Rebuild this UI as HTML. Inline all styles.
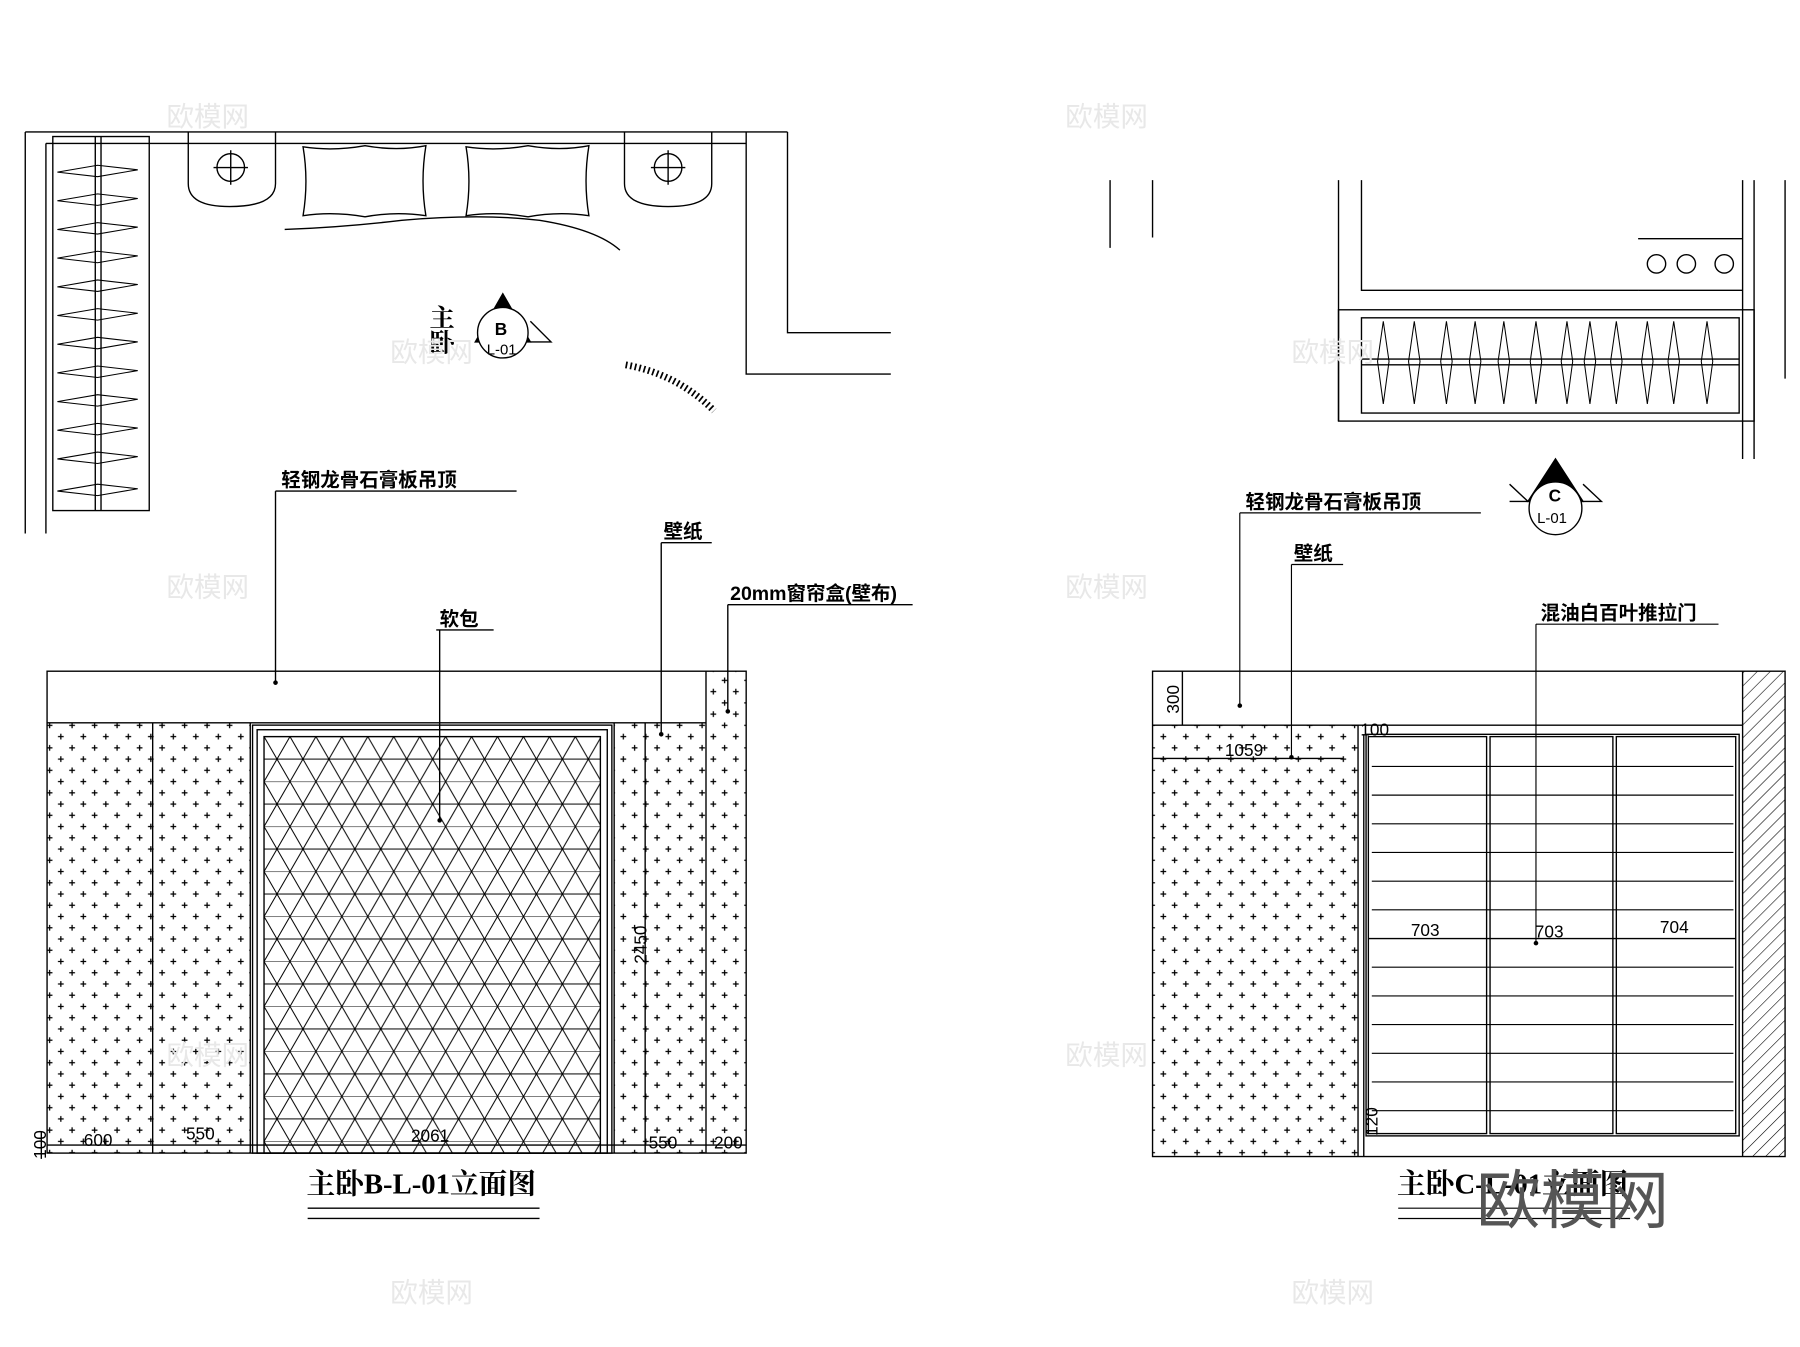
<!DOCTYPE html>
<html><head><meta charset="utf-8"><style>html,body{margin:0;padding:0;background:#fff}svg{display:block}text{fill:#000}.cn{font-family:"Liberation Sans","Noto Sans CJK SC",sans-serif;font-weight:bold}.num{font-family:"Liberation Sans",sans-serif}.ti{font-family:"Liberation Serif","Noto Serif CJK SC",serif;font-weight:bold}</style></head><body>
<svg width="1800" height="1347" viewBox="0 0 1568 1174" preserveAspectRatio="none" xmlns="http://www.w3.org/2000/svg">
<defs>
<pattern id="dots" width="19.6" height="19.6" patternUnits="userSpaceOnUse">
<path d="M4 2.5v5M1.5 5h5M13.8 12.3v5M11.3 14.8h5" stroke="#000" stroke-width="1.1"/>
</pattern>
<pattern id="tri" x="230" y="642" width="22.6" height="39.2" patternUnits="userSpaceOnUse">
<path d="M0 0L22.6 39.2M22.6 0L0 39.2M0 19.6H22.6M0 0H22.6" stroke="#000" stroke-width="0.9"/>
</pattern>
<pattern id="hatch" width="8" height="8" patternUnits="userSpaceOnUse" patternTransform="rotate(-45)">
<path d="M0 0H8" stroke="#000" stroke-width="1"/>
</pattern>
<g id="hanger"><path d="M0 0 L35 -6 L70 -2 L35 4Z" fill="none" stroke="#000" stroke-width="0.9"/></g>
<g id="vh"><path d="M0 0 L-5 35 L0 72 L5 35Z" fill="none" stroke="#000" stroke-width="0.9"/></g>
</defs>
<g fill="none" stroke="#000" stroke-width="1.2">
<path d="M22 115H686M40 125H650M22 115V465M40 125V465"/>
<rect x="46" y="119" width="84" height="326"/>
<path d="M83 119V445M88 119V445"/>
<path d="M164 115V160Q164 180 200 180Q240 180 240 160V115M544 115V160Q544 180 582 180Q620 180 620 160V115"/>
<circle cx="201" cy="146" r="12"/><circle cx="582" cy="146" r="12"/>
<path d="M186 146H216M201 131V161M567 146H597M582 131V161"/>
<path d="M264 128Q290 132 318 127Q346 132 371 127Q366 158 371 188Q344 184 318 189Q290 184 264 188Q269 158 264 128Z"/>
<path d="M406 128Q432 132 460 127Q488 132 513 127Q508 158 513 188Q486 184 460 189Q432 184 406 188Q411 158 406 128Z"/>
<path d="M248 200Q300 198 350 192Q420 186 470 192Q520 200 540 218"/>
<path d="M650 115V326H776M686 115V290H776"/>
<path d="M545 318Q590 326 622 358" stroke-dasharray="1.5 2.5" stroke-width="6"/>
<path d="M414 298L438 256L462 298Z" fill="#000"/>
<path d="M462 298H480L462 280"/>
<circle cx="438" cy="290" r="22" fill="#fff"/>
</g>
<text class="num" x="431" y="292" font-size="15" font-weight="bold">B</text>
<text class="num" x="424" y="309" font-size="13">L-01</text>
<text class="ti" x="383" y="265" font-size="22" writing-mode="tb">主卧</text>
<g>
<use href="#hanger" x="50" y="150"/><use href="#hanger" x="50" y="175"/><use href="#hanger" x="50" y="200"/><use href="#hanger" x="50" y="225"/><use href="#hanger" x="50" y="250"/><use href="#hanger" x="50" y="275"/><use href="#hanger" x="50" y="300"/><use href="#hanger" x="50" y="325"/><use href="#hanger" x="50" y="350"/><use href="#hanger" x="50" y="375"/><use href="#hanger" x="50" y="400"/><use href="#hanger" x="50" y="428"/>
</g>
<rect x="41" y="630" width="574" height="375" fill="url(#dots)"/>
<rect x="615" y="585" width="35" height="420" fill="url(#dots)"/>
<rect x="218" y="630" width="317" height="375" fill="#fff"/>
<rect x="230" y="642" width="293" height="363" fill="url(#tri)"/>
<g fill="none" stroke="#000" stroke-width="1.2">
<rect x="41" y="585" width="609" height="420"/>
<path d="M41 630H615M615 585V1005M133 630V1005M218 630V1005M535 630V1005M562 630V1005"/>
<rect x="220" y="632" width="313" height="373"/><rect x="224" y="636" width="305" height="369"/><rect x="230" y="642" width="293" height="363"/>
<path d="M41 998H650M36 986V1010"/>
<path d="M240 428H450M240 428V595M576 473H620M576 473V640M634 527H795M634 527V620M380 549H430M383 549V715"/>
<path d="M268 1053H470M268 1062H470"/>
</g>
<g fill="#000"><circle cx="240" cy="595" r="2"/><circle cx="576" cy="640" r="2"/><circle cx="634" cy="620" r="2"/><circle cx="383" cy="715" r="2"/></g>
<g font-size="17" class="cn"><text x="245" y="424">轻钢龙骨石膏板吊顶</text><text x="578" y="469">壁纸</text><text x="636" y="523">20mm窗帘盒(壁布)</text><text x="383" y="545">软包</text></g>
<g font-size="15" class="num"><text x="73" y="999">600</text><text x="162" y="993">550</text><text x="358" y="995">2061</text><text x="565" y="1001">550</text><text x="622" y="1001">200</text>
<text transform="translate(40 1010) rotate(-90)">100</text><text transform="translate(563 840) rotate(-90)">2450</text></g>
<text class="ti" x="267" y="1040" font-size="25">主卧B-L-01立面图</text>
<g fill="none" stroke="#000" stroke-width="1.2">
<path d="M967 157V216M1004 157V207M1166 157V367M1186 157V253H1427M1427 208H1518V253H1427M1518 157V400M1528 157V400M1555 157V330"/>
<circle cx="1443" cy="230" r="8"/><circle cx="1469" cy="230" r="8"/><circle cx="1502" cy="230" r="8"/>
<rect x="1166" y="270" width="362" height="97"/><rect x="1186" y="277" width="329" height="83"/>
<path d="M1186 313H1515M1186 318H1515"/>
<path d="M1331 437L1355 400L1379 437Z" fill="#000"/>
<path d="M1315 437H1395L1379 422M1331 437L1315 422"/>
<circle cx="1355" cy="443" r="23" fill="#fff"/>
</g>
<g>
<use href="#vh" x="1205" y="280"/><use href="#vh" x="1232" y="280"/><use href="#vh" x="1260" y="280"/><use href="#vh" x="1285" y="280"/><use href="#vh" x="1310" y="280"/><use href="#vh" x="1338" y="280"/><use href="#vh" x="1365" y="280"/><use href="#vh" x="1385" y="280"/><use href="#vh" x="1408" y="280"/><use href="#vh" x="1435" y="280"/><use href="#vh" x="1458" y="280"/><use href="#vh" x="1487" y="280"/>
</g>
<text class="num" x="1349" y="437" font-size="15" font-weight="bold">C</text>
<text class="num" x="1339" y="456" font-size="13">L-01</text>
<rect x="1004" y="632" width="179" height="376" fill="url(#dots)"/>
<rect x="1518" y="585" width="37" height="423" fill="url(#hatch)"/>
<g fill="none" stroke="#000" stroke-width="1.2">
<rect x="1004" y="585" width="551" height="423"/>
<path d="M1004 632H1518M1518 585V1008M1004 661H1170M1183 632V1008M1188 640V1008M1030 585V632"/>
<rect x="1190" y="640" width="325" height="350"/>
<rect x="1192" y="642" width="103" height="346"/><rect x="1298" y="642" width="107" height="346"/><rect x="1408" y="642" width="104" height="346"/>
<path d="M1192 818H1512"/>
</g>
<g stroke="#000" stroke-width="1">
<path d="M1195 668H1510M1195 693H1510M1195 718H1510M1195 743H1510M1195 768H1510M1195 793H1510M1195 843H1510M1195 868H1510M1195 893H1510M1195 918H1510M1195 943H1510M1195 968H1510"/>
<path d="M1080 447H1290M1080 447V615M1125 492H1170M1125 492V660M1338 544H1497M1338 544V822M1218 1053H1420M1218 1062H1420"/>
</g>
<g fill="#000"><circle cx="1080" cy="615" r="2"/><circle cx="1125" cy="660" r="2"/><circle cx="1338" cy="822" r="2"/></g>
<g font-size="17" class="cn"><text x="1085" y="443">轻钢龙骨石膏板吊顶</text><text x="1127" y="488">壁纸</text><text x="1342" y="540">混油白百叶推拉门</text></g>
<g font-size="15" class="num"><text x="1067" y="659">1059</text><text x="1185" y="641">100</text><text x="1229" y="816">703</text><text x="1337" y="817">703</text><text x="1446" y="813">704</text>
<text transform="translate(1027 622) rotate(-90)">300</text><text transform="translate(1200 990) rotate(-90)">120</text></g>
<text class="ti" x="1217" y="1040" font-size="25">主卧C-L-01立面图</text>
<text x="1286" y="1066" font-size="56" style="fill:#555;font-family:'Noto Sans CJK SC',sans-serif">欧模网</text>
<g font-size="24" style="fill:#e8e8e8;font-family:'Noto Sans CJK SC',sans-serif">
<text x="145" y="110" style="fill:#e8e8e8">欧模网</text><text x="928" y="110" style="fill:#e8e8e8">欧模网</text><text x="340" y="315" style="fill:#e8e8e8">欧模网</text><text x="1125" y="315" style="fill:#e8e8e8">欧模网</text><text x="145" y="520" style="fill:#e8e8e8">欧模网</text><text x="928" y="520" style="fill:#e8e8e8">欧模网</text><text x="145" y="928" style="fill:#e8e8e8">欧模网</text><text x="928" y="928" style="fill:#e8e8e8">欧模网</text><text x="340" y="1135" style="fill:#e8e8e8">欧模网</text><text x="1125" y="1135" style="fill:#e8e8e8">欧模网</text>
</g>
</svg>
</body></html>
